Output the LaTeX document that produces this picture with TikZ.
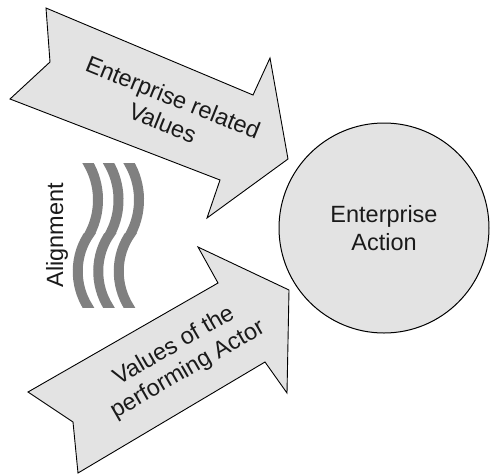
\documentclass[tikz,border=0pt]{standalone}
\usepackage{fontspec}
\setmainfont{Liberation Sans}
\definecolor{panel}{HTML}{E3E3E3}
\definecolor{wave}{HTML}{808080}
\definecolor{ink}{HTML}{1A1A1A}
\begin{document}
\begin{tikzpicture}[x=1pt,y=-1pt,
  blockarrow/.style={draw=black, line width=0.9pt, fill=panel, line join=miter},
  caption/.style={text=ink, font=\fontsize{23.5}{27.5}\selectfont, align=center, inner sep=0pt},
  wavestroke/.style={draw=wave, line width=10pt, line cap=rect}]
\useasboundingbox (0,0) rectangle (490,475);

% upper block arrow
\coordinate (ta1) at (46,8);
\coordinate (ta2) at (50,62);
\coordinate (ta3) at (10,99);
\coordinate (ta4) at (220,180);
\coordinate (ta5) at (207,218);
\coordinate (ta6) at (288,159);
\coordinate (ta7) at (270,58);
\coordinate (ta8) at (253,95);
\draw[blockarrow] (ta1) -- (ta2) -- (ta3) -- (ta4) -- (ta5) -- (ta6) -- (ta7) -- (ta8) -- cycle;

% lower block arrow
\coordinate (ba1) at (78,473);
\coordinate (ba2) at (73,422);
\coordinate (ba3) at (28,392);
\coordinate (ba4) at (218,283);
\coordinate (ba5) at (198,247);
\coordinate (ba6) at (289,290);
\coordinate (ba7) at (287,393);
\coordinate (ba8) at (265,362);
\draw[blockarrow] (ba1) -- (ba2) -- (ba3) -- (ba4) -- (ba5) -- (ba6) -- (ba7) -- (ba8) -- cycle;

% target circle
\node[circle, draw=black, line width=1pt, fill=panel, minimum size=210pt, inner sep=0pt,
      caption] (action) at (384,228) {Enterprise\\Action};

% arrow captions
\node[caption, rotate=-22] (topval) at (168,110) {Enterprise related\\Values};
\node[caption, rotate=30] (actorval) at (181,358) {Values of the\\performing Actor};

% alignment waves: upper halves
\begin{scope}
  \clip (60,163) rectangle (160,232.6);
  \foreach \dx in {0,20.5,41}{
    \draw[wavestroke] (88+\dx,163) .. controls (101+\dx,185) and (101+\dx,212) .. (90+\dx,233);
  }
\end{scope}
% alignment waves: lower halves
\begin{scope}
  \clip (60,233.6) rectangle (160,307);
  \foreach \dx in {0,20.5,41}{
    \draw[wavestroke] (90+\dx,233) .. controls (74+\dx,255) and (74+\dx,285) .. (88+\dx,307);
  }
\end{scope}

\node[caption, rotate=90, anchor=base] (align) at (63,235) {Alignment};
\end{tikzpicture}
\end{document}
